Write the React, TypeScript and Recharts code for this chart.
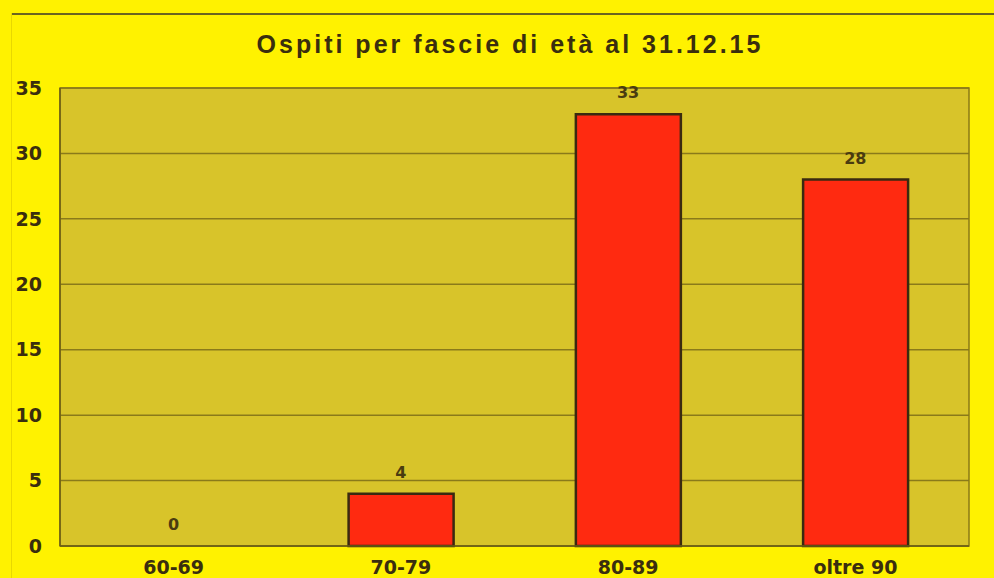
import React from "react";
import { ComposedChart, Bar, Line, LabelList, XAxis, YAxis, CartesianGrid, ReferenceArea } from "recharts";

const categories = ["60-69", "70-79", "80-89", "oltre 90"];
const ospiti = [0, 4, 33, 28];
const yTicks = [0, 5, 10, 15, 20, 25, 30, 35];
const title = "Ospiti per fascie di età al 31.12.15";

const data = categories.map((c, i) => ({ fascia: c, ospiti: ospiti[i] }));

const textColor = "#3a2e0e";
const tickFont = { fontFamily: "DejaVu Sans", fontWeight: 700, fontSize: 19, fill: textColor };

export default function App() {
  return (
    <div style={{ position: "absolute", left: 0, top: 0, width: 994, height: 578, background: "#fff200", overflow: "hidden" }}>
      <div style={{ position: "absolute", left: 12, top: 13, width: 982, height: 2, background: "#6b6420" }} />
      <div style={{ position: "absolute", left: 11, top: 13, width: 1, height: 565, background: "#e8d800" }} />
      <div
        style={{
          position: "absolute",
          left: 13,
          top: 30,
          width: 994,
          textAlign: "center",
          fontFamily: "Liberation Sans",
          fontSize: 25,
          fontWeight: 700,
          letterSpacing: 3,
          color: textColor,
        }}
      >
        {title}
      </div>
      <div style={{ position: "absolute", left: 0, top: 0 }}>
        <ComposedChart
          width={994}
          height={578}
          data={data}
          margin={{ top: 88, right: 25, bottom: 0, left: 0 }}
          barCategoryGap="27%"
        >
          <CartesianGrid vertical={false} stroke="#8a7a1a" strokeWidth={1.5} fill="#d8c42a" fillOpacity={1} />
          <ReferenceArea y1={0} y2={35} fill="none" stroke="#8a7a1a" strokeWidth={1.5} ifOverflow="extendDomain" />
          <XAxis
            dataKey="fascia"
            axisLine={{ stroke: "#6b5e14", strokeWidth: 1.5 }}
            tickLine={false}
            tickSize={0}
            tickMargin={15}
            height={32}
            tick={tickFont}
            interval={0}
          />
          <YAxis
            domain={[0, 35]}
            ticks={yTicks}
            width={60}
            axisLine={{ stroke: "#6b5e14", strokeWidth: 1.5 }}
            tickLine={false}
            tickSize={0}
            tickMargin={18}
            tick={tickFont}
            interval={0}
          />
          <Bar dataKey="ospiti" fill="#ff2a10" stroke="#3a2a10" strokeWidth={2.5} isAnimationActive={false} />
          <Line
            dataKey="ospiti"
            stroke="none"
            dot={false}
            activeDot={false}
            legendType="none"
            isAnimationActive={false}
          >
            <LabelList
              dataKey="ospiti"
              position="top"
              offset={16}
              style={{ fontFamily: "DejaVu Sans", fontWeight: 700, fontSize: 16, fill: "#4a3c10" }}
            />
          </Line>
        </ComposedChart>
      </div>
    </div>
  );
}
